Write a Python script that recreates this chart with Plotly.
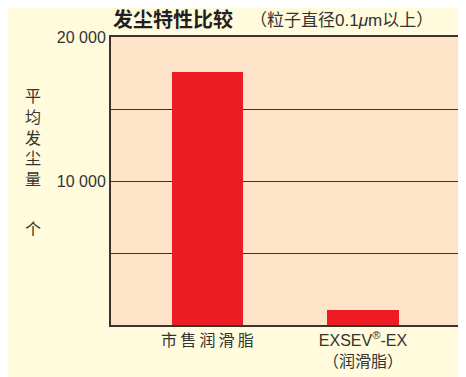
import plotly.graph_objects as go

categories = ["市\u2009售\u2009润\u2009滑\u2009脂", "EXSEV<sup>®</sup>-EX<br>（润滑脂）"]
x_pos = [0, 1]
values = [17600, 1050]
y_ticks = [0, 5000, 10000, 15000, 20000]
y_tick_text = ["", "", "10 000", "", "20 000"]

FONT = "Liberation Sans, Arial, Noto Sans CJK SC, sans-serif"

# page body has an 8px margin; compensate in the figure margins
fig = go.Figure()
fig.add_trace(go.Bar(
    x=x_pos, y=values, width=0.46,
    marker=dict(color="#ed1c24", line=dict(width=0)),
    hoverinfo="skip",
))

fig.update_layout(
    width=466, height=377,
    margin=dict(l=103, r=10, t=29, b=60),
    paper_bgcolor="#fffbdc",
    plot_bgcolor="#fde3c8",
    showlegend=False,
    font=dict(family=FONT, size=16, color="#333333"),
    xaxis=dict(
        range=[-0.62, 1.637],
        tickvals=x_pos, ticktext=categories,
        showgrid=False, zeroline=False,
        showline=True, mirror=True, linecolor="#3a3330", linewidth=2,
        ticks="", tickfont=dict(size=16, color="#333333"),
        fixedrange=True,
    ),
    yaxis=dict(
        range=[0, 20000],
        tickvals=y_ticks, ticktext=y_tick_text,
        showgrid=True, gridcolor="#3a3330", gridwidth=1,
        zeroline=False,
        showline=True, mirror=True, linecolor="#3a3330", linewidth=2,
        ticks="", tickfont=dict(size=16, color="#333333"),
        fixedrange=True,
    ),
    bargap=0,
)

fig.add_annotation(
    text="<b>发尘特性比较</b>", xref="paper", yref="paper",
    x=0.0, y=1.0, xanchor="left", yanchor="bottom", yshift=4,
    showarrow=False, font=dict(size=20, color="#231f20", family=FONT),
)
fig.add_annotation(
    text="（粒子直径0.1<i>μ</i>m以上）", xref="paper", yref="paper",
    x=0.39, y=1.0, xanchor="left", yanchor="bottom", yshift=5,
    showarrow=False, font=dict(size=17, color="#333333", family=FONT),
)
fig.add_annotation(
    text="平<br>均<br>发<br>尘<br>量", xref="paper", yref="paper",
    x=-0.221, y=0.83, xanchor="center", yanchor="top",
    showarrow=False, align="center",
    font=dict(size=16, color="#333333", family=FONT),
)
fig.add_annotation(
    text="个", xref="paper", yref="paper",
    x=-0.221, y=0.33, xanchor="center", yanchor="middle",
    showarrow=False, align="center",
    font=dict(size=16, color="#333333", family=FONT),
)

fig.write_html("out.html")
